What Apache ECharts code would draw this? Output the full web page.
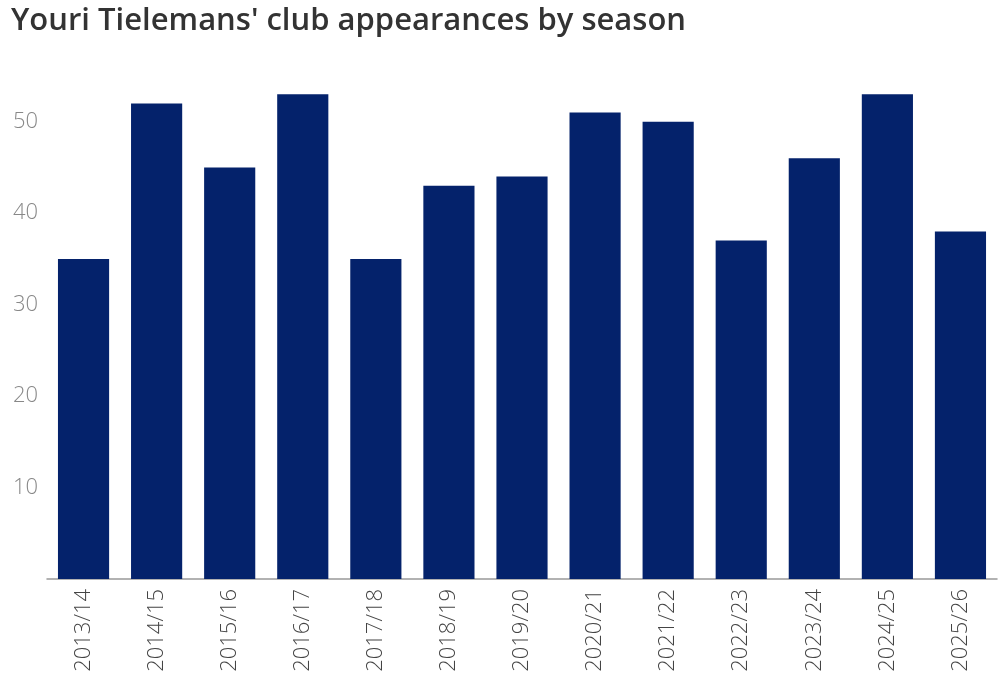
<!DOCTYPE html>
<html><head><meta charset="utf-8">
<script src="https://cdn.jsdelivr.net/npm/echarts@6/dist/echarts.min.js"></script>
<style>html,body{margin:0;padding:0;background:#fff}#c{width:1000px;height:699px}</style>
</head><body><div id="c"></div>
<script>
var seasons = ['2013/14','2014/15','2015/16','2016/17','2017/18','2018/19','2019/20','2020/21','2021/22','2022/23','2023/24','2024/25','2025/26'];
var appearances = [35,52,45,53,35,43,44,51,50,37,46,53,38];
var yTicks = [10,20,30,40,50];
var chart = echarts.init(document.getElementById('c'));
chart.setOption({
  animation:false,
  title:{text:"Youri Tielemans' club appearances by season",left:6,top:1,
    textStyle:{fontFamily:'Open Sans',fontWeight:600,fontSize:31,color:'#333'}},
  grid:{left:47,right:3,top:76,bottom:120,containLabel:false},
  xAxis:{type:'category',data:seasons,
    axisLine:{lineStyle:{color:'#999',width:1.5}},axisTick:{show:false},
    axisLabel:{rotate:90,margin:10,fontFamily:'Open Sans',fontWeight:300,fontSize:22,color:'#444'}},
  yAxis:{type:'value',min:0,max:55,interval:10,
    splitLine:{show:false},axisLine:{show:false},axisTick:{show:false},
    axisLabel:{margin:9,fontFamily:'Open Sans',fontWeight:300,fontSize:22,color:'#888',
      formatter:function(v){return yTicks.indexOf(v)>=0?String(v):'';}}},
  series:[{type:'bar',data:appearances,barWidth:'70%',itemStyle:{color:'#04226b'}}]
});
</script></body></html>
